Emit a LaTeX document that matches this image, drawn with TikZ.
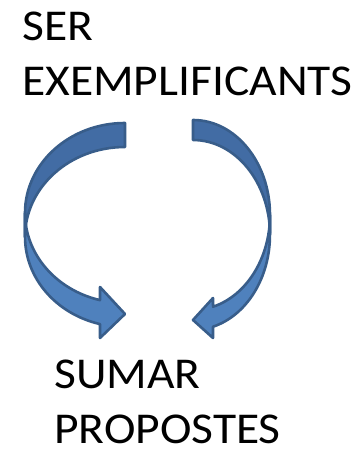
\documentclass[tikz,border=0pt]{standalone}
\usepackage{fontspec}
\setmainfont{Carlito}
\usepackage{tikz}
\usetikzlibrary{positioning}
\definecolor{arrowfront}{RGB}{79, 129, 189}
\definecolor{arrowback}{RGB}{66, 108, 164}
\definecolor{arrowline}{RGB}{56, 93, 138}
\tikzset{
  caption/.style = {
    anchor=base west, inner sep=0pt, xscale=1.08, transform shape,
    font=\fontsize{44}{53}\selectfont
  },
  bandback/.style = {
    fill=arrowback, draw=arrowline, line width=2.6pt, line join=round
  },
  bandfront/.style = {
    fill=arrowfront, draw=arrowline, line width=2.6pt, line join=round
  },
}

\begin{document}
\begin{tikzpicture}[x=1pt, y=-1pt]
  \useasboundingbox (0,0) rectangle (359,450);

  %% Labels
  \node[caption] (ser)       at (22,40)  {SER};
  \node[caption] (exempl)    at (22,95)  {EXEMPLIFICANTS};
  \node[caption] (sumar)     at (54,388) {SUMAR};
  \node[caption] (propostes) at (54,443) {PROPOSTES};

  %% Left curved arrow
  \draw[bandback] (125,123) arc[start angle=270, end angle=180, x radius=100, y radius=90]
    -- (25,237) arc[start angle=180, end angle=270, x radius=100, y radius=90]
    -- cycle;
  \draw[bandfront] (25,213) arc[start angle=180, end angle=104.5, x radius=100, y radius=90]
    -- (100,287) -- (125,314) -- (100,338) -- (100,324.1)
    arc[start angle=104.5, end angle=180, x radius=100, y radius=90]
    -- cycle;

  %% Right curved arrow
  \draw[bandback] (193,120) arc[start angle=270, end angle=360, x radius=77, y radius=95]
    -- (270,235) arc[start angle=360, end angle=270, x radius=77, y radius=95]
    -- cycle;
  \draw[bandfront] (270,215) arc[start angle=0, end angle=74.9, x radius=77, y radius=95]
    -- (213,298) -- (193,320) -- (213,338) -- (213,326.7)
    arc[start angle=74.9, end angle=0, x radius=77, y radius=95]
    -- cycle;

\end{tikzpicture}
\end{document}
